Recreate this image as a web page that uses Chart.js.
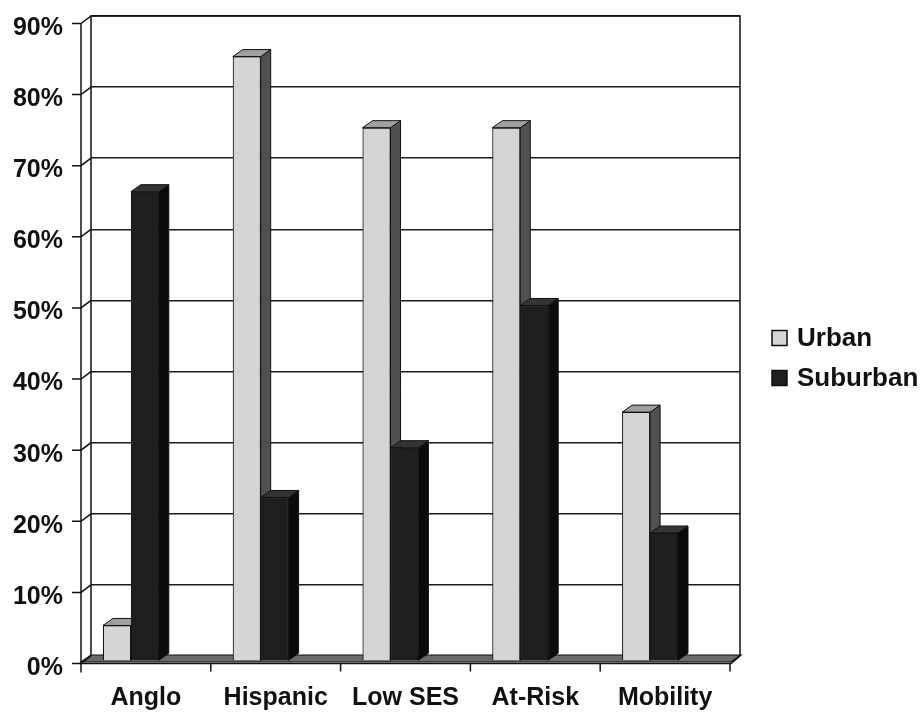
<!DOCTYPE html>
<html>
<head>
<meta charset="utf-8">
<script src="https://cdn.jsdelivr.net/npm/chart.js@4.4.1/dist/chart.umd.min.js"></script>
<style>
  body { margin: 0; background: #fff; }
</style>
</head>
<body>
<canvas id="chart" width="922" height="712"></canvas>
<script>
const categories = ["Anglo", "Hispanic", "Low SES", "At-Risk", "Mobility"];
const seriesNames = ["Urban", "Suburban"];
const urbanValues = [5, 85, 75, 75, 35];
const suburbanValues = [66, 23, 30, 50, 18];
const yTickLabels = ["0%", "10%", "20%", "30%", "40%", "50%", "60%", "70%", "80%", "90%"];

const FONT = "'Liberation Sans', Arial, sans-serif";
// depth of the fake 3d box
const DX = 10, DY = 7;
// bars sit in the middle of the box, not on the back wall
const BAR_SHIFT_X = -25, BAR_SHIFT_Y = 5;

const faces = [
  { front: "#d5d5d5", side: "#505050", top: "#a0a0a0" },
  { front: "#1e1e1e", side: "#0b0b0b", top: "#333333" },
];

function drawFaces(ctx, el, c) {
  const { x, y, base, width } = el.getProps(["x", "y", "base", "width"], true);
  const l = x - width / 2, r = x + width / 2;
  ctx.strokeStyle = "#111";
  ctx.lineWidth = 1;
  // right side
  ctx.fillStyle = c.side;
  ctx.beginPath();
  ctx.moveTo(r, y);
  ctx.lineTo(r + DX, y - DY);
  ctx.lineTo(r + DX, base - DY);
  ctx.lineTo(r, base);
  ctx.closePath();
  ctx.fill();
  ctx.stroke();
  // top
  ctx.fillStyle = c.top;
  ctx.beginPath();
  ctx.moveTo(l, y);
  ctx.lineTo(l + DX, y - DY);
  ctx.lineTo(r + DX, y - DY);
  ctx.lineTo(r, y);
  ctx.closePath();
  ctx.fill();
  ctx.stroke();
}

const box3d = {
  id: "box3d",
  beforeDatasetsDraw(chart) {
    const { ctx, chartArea: a } = chart;
    // floor slab
    ctx.save();
    ctx.fillStyle = "#6a6a6a";
    ctx.strokeStyle = "#111";
    ctx.lineWidth = 1.2;
    ctx.beginPath();
    ctx.moveTo(a.left, a.bottom - 1);
    ctx.lineTo(a.right + 1, a.bottom - 1);
    ctx.lineTo(a.right + 1 - DX, a.bottom + 6);
    ctx.lineTo(a.left - DX, a.bottom + 6);
    ctx.closePath();
    ctx.fill();
    ctx.stroke();
    ctx.restore();

    ctx.save();
    ctx.translate(BAR_SHIFT_X, BAR_SHIFT_Y);
  },
  afterDatasetsDraw(chart) {
    const { ctx } = chart;
    // redraw category by category so each bar covers its neighbour's side
    const n = chart.data.labels.length;
    for (let i = 0; i < n; i++) {
      chart.data.datasets.forEach((ds, di) => {
        const el = chart.getDatasetMeta(di).data[i];
        el.draw(ctx);
        drawFaces(ctx, el, faces[di]);
      });
    }
    ctx.restore();
  },
  afterDraw(chart) {
    const { ctx, chartArea: a, scales } = chart;
    const y = scales.y;
    ctx.save();
    ctx.strokeStyle = "#111";
    ctx.lineWidth = 1.5;
    const fl = a.left - DX;
    // back wall outline
    ctx.beginPath();
    ctx.moveTo(a.left, a.bottom);
    ctx.lineTo(a.left, a.top);
    ctx.lineTo(a.right, a.top);
    ctx.lineTo(a.right, a.bottom);
    ctx.stroke();
    // left wall: ticks and diagonals
    yTickLabels.forEach((_, i) => {
      const yb = y.getPixelForValue(i * 10);
      const yf = yb + DY + 0.5;
      ctx.beginPath();
      ctx.moveTo(fl - 9, yf);
      ctx.lineTo(fl, yf);
      ctx.lineTo(a.left, yb);
      ctx.stroke();
    });
    const top0 = y.getPixelForValue(90) + DY + 0.5;
    const bot0 = a.bottom + DY + 0.5;
    ctx.beginPath();
    ctx.moveTo(fl, top0);
    ctx.lineTo(fl, bot0 + 9);
    ctx.stroke();
    // front x axis
    const fr = a.right - DX + 1;
    ctx.beginPath();
    ctx.moveTo(fl, bot0);
    ctx.lineTo(fr, bot0);
    ctx.lineTo(a.right, a.bottom);
    ctx.stroke();
    const cw = (a.right - a.left) / categories.length;
    for (let i = 1; i <= categories.length; i++) {
      const xf = a.left + i * cw - DX;
      ctx.beginPath();
      ctx.moveTo(xf, bot0);
      ctx.lineTo(xf, bot0 + 8);
      ctx.stroke();
    }
    // legend
    ctx.font = "bold 26px " + FONT;
    ctx.textBaseline = "middle";
    ctx.textAlign = "left";
    chart.data.datasets.forEach((ds, i) => {
      const cy = 338 + i * 40;
      ctx.fillStyle = faces[i].front;
      ctx.fillRect(772, cy - 7.5, 15, 15);
      ctx.lineWidth = 1.5;
      ctx.strokeRect(772, cy - 7.5, 15, 15);
      ctx.fillStyle = "#111";
      ctx.fillText(ds.label, 797, cy + 1);
    });
    ctx.restore();
  },
};

new Chart(document.getElementById("chart"), {
  type: "bar",
  data: {
    labels: categories,
    datasets: [
      {
        label: seriesNames[0],
        data: urbanValues,
        backgroundColor: faces[0].front,
        borderColor: "#111",
        borderWidth: 1,
        clip: false,
      },
      {
        label: seriesNames[1],
        data: suburbanValues,
        backgroundColor: faces[1].front,
        borderColor: "#111",
        borderWidth: 1,
        clip: false,
      },
    ],
  },
  options: {
    responsive: false,
    animation: false,
    categoryPercentage: 0.43,
    barPercentage: 1,
    layout: { padding: { top: 16, right: 182, left: 0, bottom: 0 } },
    plugins: {
      legend: { display: false },
      tooltip: { enabled: false },
    },
    scales: {
      x: {
        grid: { display: false, drawTicks: false },
        border: { display: false },
        afterFit: (s) => { s.height = 56; },
        ticks: {
          color: "#111",
          font: { family: FONT, size: 25, weight: "bold" },
          padding: 27,
          labelOffset: -10,
          maxRotation: 0,
        },
      },
      y: {
        min: 0,
        max: 90,
        afterFit: (s) => { s.width = 91; },
        grid: { color: "#1a1a1a", lineWidth: 1.5, tickLength: 28, tickColor: "rgba(0,0,0,0)" },
        border: { display: false },
        ticks: {
          stepSize: 10,
          color: "#111",
          font: { family: FONT, size: 25, weight: "bold" },
          padding: 0,
          labelOffset: 12,
          callback: (v, i) => yTickLabels[i],
        },
      },
    },
  },
  plugins: [box3d],
});
</script>
</body>
</html>
